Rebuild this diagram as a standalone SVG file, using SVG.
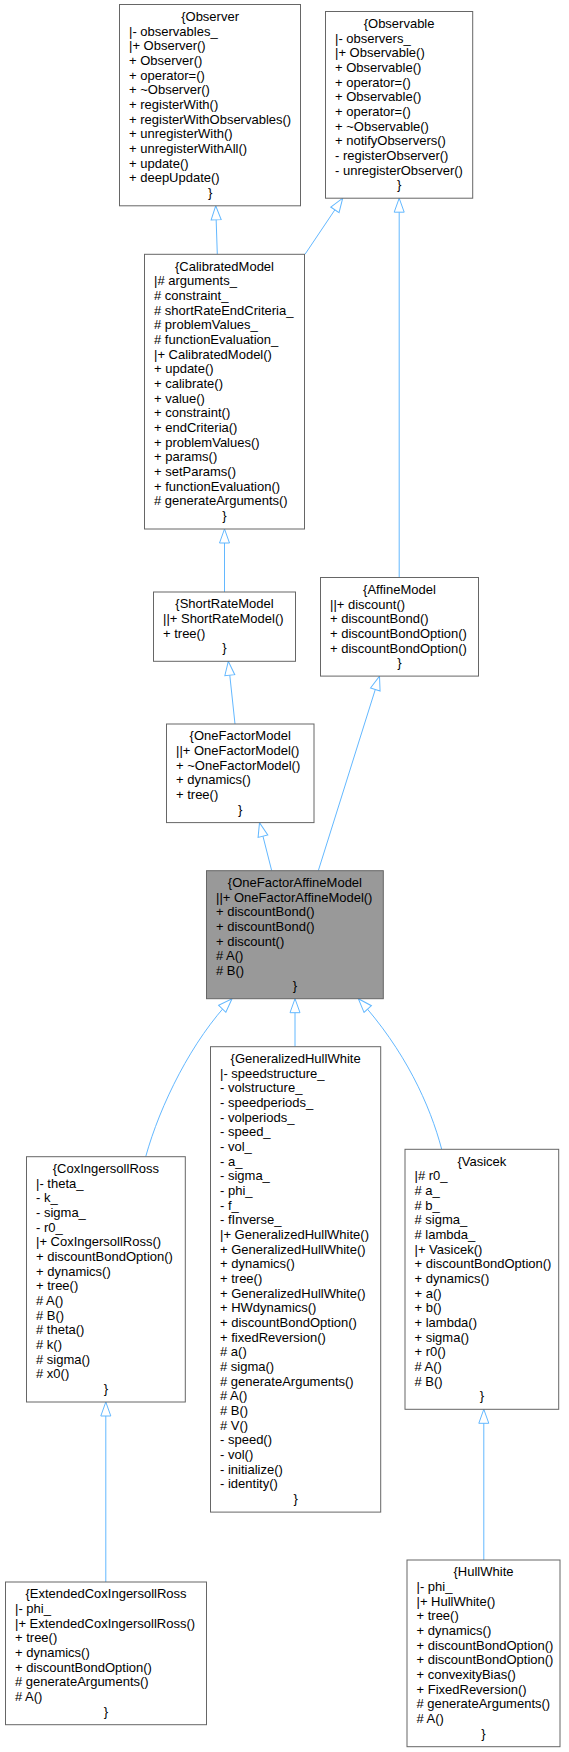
<svg xmlns="http://www.w3.org/2000/svg" width="569" height="1752" viewBox="0 0 569 1752">
<style>
.box{fill:#fff;stroke:#666;stroke-width:1}
.hl{fill:#999;stroke:#666;stroke-width:1}
.t{font-family:"Liberation Sans",Arial,sans-serif;font-size:13px;fill:#000}
.c{text-anchor:middle}
.e{fill:none;stroke:#63B8FF;stroke-width:1;marker-end:url(#a)}
</style>
<defs>
<marker id="a" viewBox="-1 -1 16 12" refX="14" refY="5" markerWidth="16" markerHeight="12" markerUnits="userSpaceOnUse" orient="auto">
<path d="M0,0 L14,5 L0,10 Z" fill="#fff" stroke="#63B8FF"/>
</marker>
</defs>
<rect width="569" height="1752" fill="#fff"/>
<g id="connectors">
<path class="e" d="M217.3,254.3 L215.7,205.8"/>
<path class="e" d="M305,254.3 L342.7,198.2"/>
<path class="e" d="M399.2,577.5 L399.2,198.2"/>
<path class="e" d="M224.5,592 L224.5,529"/>
<path class="e" d="M235,724 L228.3,661.3"/>
<path class="e" d="M271.7,870.7 L259.5,822.6"/>
<path class="e" d="M318.3,870.7 L379.5,676.1"/>
<path class="e" d="M145.7,1156.7 C160,1105 192,1040 232,998.7"/>
<path class="e" d="M295,1046.7 L295,998.7"/>
<path class="e" d="M441.7,1149.3 C430,1105 405,1050 358.3,998.7"/>
<path class="e" d="M105.8,1582 L105.8,1402"/>
<path class="e" d="M483.8,1560 L483.8,1409.3"/>
</g>
<g id="Observer">
<rect class="box" x="119.5" y="4.5" width="181" height="201.3"/>
<text class="t c" x="210.1" y="20.8">{Observer</text>
<text class="t" x="129" y="35.5">|- observables_<tspan x="129" dy="14.67">|+ Observer()</tspan><tspan x="129" dy="14.67">+ Observer()</tspan><tspan x="129" dy="14.67">+ operator=()</tspan><tspan x="129" dy="14.67">+ ~Observer()</tspan><tspan x="129" dy="14.67">+ registerWith()</tspan><tspan x="129" dy="14.67">+ registerWithObservables()</tspan><tspan x="129" dy="14.67">+ unregisterWith()</tspan><tspan x="129" dy="14.67">+ unregisterWithAll()</tspan><tspan x="129" dy="14.67">+ update()</tspan><tspan x="129" dy="14.67">+ deepUpdate()</tspan></text>
<text class="t c" x="210.1" y="196.8">}</text>
</g>
<g id="Observable">
<rect class="box" x="325.5" y="11.5" width="147.2" height="186.7"/>
<text class="t c" x="399.1" y="27.8">{Observable</text>
<text class="t" x="335" y="42.5">|- observers_<tspan x="335" dy="14.67">|+ Observable()</tspan><tspan x="335" dy="14.67">+ Observable()</tspan><tspan x="335" dy="14.67">+ operator=()</tspan><tspan x="335" dy="14.67">+ Observable()</tspan><tspan x="335" dy="14.67">+ operator=()</tspan><tspan x="335" dy="14.67">+ ~Observable()</tspan><tspan x="335" dy="14.67">+ notifyObservers()</tspan><tspan x="335" dy="14.67">- registerObserver()</tspan><tspan x="335" dy="14.67">- unregisterObserver()</tspan></text>
<text class="t c" x="399.1" y="189.2">}</text>
</g>
<g id="CalibratedModel">
<rect class="box" x="144.5" y="254.3" width="160" height="274.7"/>
<text class="t c" x="224.5" y="270.6">{CalibratedModel</text>
<text class="t" x="154" y="285.3">|# arguments_<tspan x="154" dy="14.67"># constraint_</tspan><tspan x="154" dy="14.67"># shortRateEndCriteria_</tspan><tspan x="154" dy="14.67"># problemValues_</tspan><tspan x="154" dy="14.67"># functionEvaluation_</tspan><tspan x="154" dy="14.67">|+ CalibratedModel()</tspan><tspan x="154" dy="14.67">+ update()</tspan><tspan x="154" dy="14.67">+ calibrate()</tspan><tspan x="154" dy="14.67">+ value()</tspan><tspan x="154" dy="14.67">+ constraint()</tspan><tspan x="154" dy="14.67">+ endCriteria()</tspan><tspan x="154" dy="14.67">+ problemValues()</tspan><tspan x="154" dy="14.67">+ params()</tspan><tspan x="154" dy="14.67">+ setParams()</tspan><tspan x="154" dy="14.67">+ functionEvaluation()</tspan><tspan x="154" dy="14.67"># generateArguments()</tspan></text>
<text class="t c" x="224.5" y="520">}</text>
</g>
<g id="ShortRateModel">
<rect class="box" x="153.5" y="592" width="142" height="69.3"/>
<text class="t c" x="224.5" y="608.3">{ShortRateModel</text>
<text class="t" x="163" y="623">||+ ShortRateModel()<tspan x="163" dy="14.67">+ tree()</tspan></text>
<text class="t c" x="224.5" y="652.3">}</text>
</g>
<g id="AffineModel">
<rect class="box" x="320.5" y="577.5" width="158" height="98.6"/>
<text class="t c" x="399.5" y="593.8">{AffineModel</text>
<text class="t" x="330" y="608.5">||+ discount()<tspan x="330" dy="14.67">+ discountBond()</tspan><tspan x="330" dy="14.67">+ discountBondOption()</tspan><tspan x="330" dy="14.67">+ discountBondOption()</tspan></text>
<text class="t c" x="399.5" y="667.2">}</text>
</g>
<g id="OneFactorModel">
<rect class="box" x="166.5" y="724" width="147.5" height="98.6"/>
<text class="t c" x="240.2" y="740.3">{OneFactorModel</text>
<text class="t" x="176" y="755">||+ OneFactorModel()<tspan x="176" dy="14.67">+ ~OneFactorModel()</tspan><tspan x="176" dy="14.67">+ dynamics()</tspan><tspan x="176" dy="14.67">+ tree()</tspan></text>
<text class="t c" x="240.2" y="813.7">}</text>
</g>
<g id="OneFactorAffineModel">
<rect class="hl" x="206.5" y="870.7" width="176.8" height="128"/>
<text class="t c" x="294.9" y="887">{OneFactorAffineModel</text>
<text class="t" x="216" y="901.7">||+ OneFactorAffineModel()<tspan x="216" dy="14.67">+ discountBond()</tspan><tspan x="216" dy="14.67">+ discountBond()</tspan><tspan x="216" dy="14.67">+ discount()</tspan><tspan x="216" dy="14.67"># A()</tspan><tspan x="216" dy="14.67"># B()</tspan></text>
<text class="t c" x="294.9" y="989.7">}</text>
</g>
<g id="CoxIngersollRoss">
<rect class="box" x="26.5" y="1156.7" width="158.8" height="245.3"/>
<text class="t c" x="105.9" y="1173">{CoxIngersollRoss</text>
<text class="t" x="36" y="1187.7">|- theta_<tspan x="36" dy="14.67">- k_</tspan><tspan x="36" dy="14.67">- sigma_</tspan><tspan x="36" dy="14.67">- r0_</tspan><tspan x="36" dy="14.67">|+ CoxIngersollRoss()</tspan><tspan x="36" dy="14.67">+ discountBondOption()</tspan><tspan x="36" dy="14.67">+ dynamics()</tspan><tspan x="36" dy="14.67">+ tree()</tspan><tspan x="36" dy="14.67"># A()</tspan><tspan x="36" dy="14.67"># B()</tspan><tspan x="36" dy="14.67"># theta()</tspan><tspan x="36" dy="14.67"># k()</tspan><tspan x="36" dy="14.67"># sigma()</tspan><tspan x="36" dy="14.67"># x0()</tspan></text>
<text class="t c" x="105.9" y="1393.1">}</text>
</g>
<g id="GeneralizedHullWhite">
<rect class="box" x="210.5" y="1046.7" width="170.2" height="465.4"/>
<text class="t c" x="295.6" y="1063">{GeneralizedHullWhite</text>
<text class="t" x="220" y="1077.7">|- speedstructure_<tspan x="220" dy="14.67">- volstructure_</tspan><tspan x="220" dy="14.67">- speedperiods_</tspan><tspan x="220" dy="14.67">- volperiods_</tspan><tspan x="220" dy="14.67">- speed_</tspan><tspan x="220" dy="14.67">- vol_</tspan><tspan x="220" dy="14.67">- a_</tspan><tspan x="220" dy="14.67">- sigma_</tspan><tspan x="220" dy="14.67">- phi_</tspan><tspan x="220" dy="14.67">- f_</tspan><tspan x="220" dy="14.67">- fInverse_</tspan><tspan x="220" dy="14.67">|+ GeneralizedHullWhite()</tspan><tspan x="220" dy="14.67">+ GeneralizedHullWhite()</tspan><tspan x="220" dy="14.67">+ dynamics()</tspan><tspan x="220" dy="14.67">+ tree()</tspan><tspan x="220" dy="14.67">+ GeneralizedHullWhite()</tspan><tspan x="220" dy="14.67">+ HWdynamics()</tspan><tspan x="220" dy="14.67">+ discountBondOption()</tspan><tspan x="220" dy="14.67">+ fixedReversion()</tspan><tspan x="220" dy="14.67"># a()</tspan><tspan x="220" dy="14.67"># sigma()</tspan><tspan x="220" dy="14.67"># generateArguments()</tspan><tspan x="220" dy="14.67"># A()</tspan><tspan x="220" dy="14.67"># B()</tspan><tspan x="220" dy="14.67"># V()</tspan><tspan x="220" dy="14.67">- speed()</tspan><tspan x="220" dy="14.67">- vol()</tspan><tspan x="220" dy="14.67">- initialize()</tspan><tspan x="220" dy="14.67">- identity()</tspan></text>
<text class="t c" x="295.6" y="1503.1">}</text>
</g>
<g id="Vasicek">
<rect class="box" x="405" y="1149.3" width="153.7" height="260"/>
<text class="t c" x="481.9" y="1165.6">{Vasicek</text>
<text class="t" x="414.5" y="1180.3">|# r0_<tspan x="414.5" dy="14.67"># a_</tspan><tspan x="414.5" dy="14.67"># b_</tspan><tspan x="414.5" dy="14.67"># sigma_</tspan><tspan x="414.5" dy="14.67"># lambda_</tspan><tspan x="414.5" dy="14.67">|+ Vasicek()</tspan><tspan x="414.5" dy="14.67">+ discountBondOption()</tspan><tspan x="414.5" dy="14.67">+ dynamics()</tspan><tspan x="414.5" dy="14.67">+ a()</tspan><tspan x="414.5" dy="14.67">+ b()</tspan><tspan x="414.5" dy="14.67">+ lambda()</tspan><tspan x="414.5" dy="14.67">+ sigma()</tspan><tspan x="414.5" dy="14.67">+ r0()</tspan><tspan x="414.5" dy="14.67"># A()</tspan><tspan x="414.5" dy="14.67"># B()</tspan></text>
<text class="t c" x="481.9" y="1400.3">}</text>
</g>
<g id="ExtendedCoxIngersollRoss">
<rect class="box" x="5.5" y="1582" width="201" height="142.7"/>
<text class="t c" x="106" y="1598.3">{ExtendedCoxIngersollRoss</text>
<text class="t" x="15" y="1613">|- phi_<tspan x="15" dy="14.67">|+ ExtendedCoxIngersollRoss()</tspan><tspan x="15" dy="14.67">+ tree()</tspan><tspan x="15" dy="14.67">+ dynamics()</tspan><tspan x="15" dy="14.67">+ discountBondOption()</tspan><tspan x="15" dy="14.67"># generateArguments()</tspan><tspan x="15" dy="14.67"># A()</tspan></text>
<text class="t c" x="106" y="1715.7">}</text>
</g>
<g id="HullWhite">
<rect class="box" x="407" y="1560" width="153" height="186.7"/>
<text class="t c" x="483.5" y="1576.3">{HullWhite</text>
<text class="t" x="416.5" y="1591">|- phi_<tspan x="416.5" dy="14.67">|+ HullWhite()</tspan><tspan x="416.5" dy="14.67">+ tree()</tspan><tspan x="416.5" dy="14.67">+ dynamics()</tspan><tspan x="416.5" dy="14.67">+ discountBondOption()</tspan><tspan x="416.5" dy="14.67">+ discountBondOption()</tspan><tspan x="416.5" dy="14.67">+ convexityBias()</tspan><tspan x="416.5" dy="14.67">+ FixedReversion()</tspan><tspan x="416.5" dy="14.67"># generateArguments()</tspan><tspan x="416.5" dy="14.67"># A()</tspan></text>
<text class="t c" x="483.5" y="1737.7">}</text>
</g>
</svg>
